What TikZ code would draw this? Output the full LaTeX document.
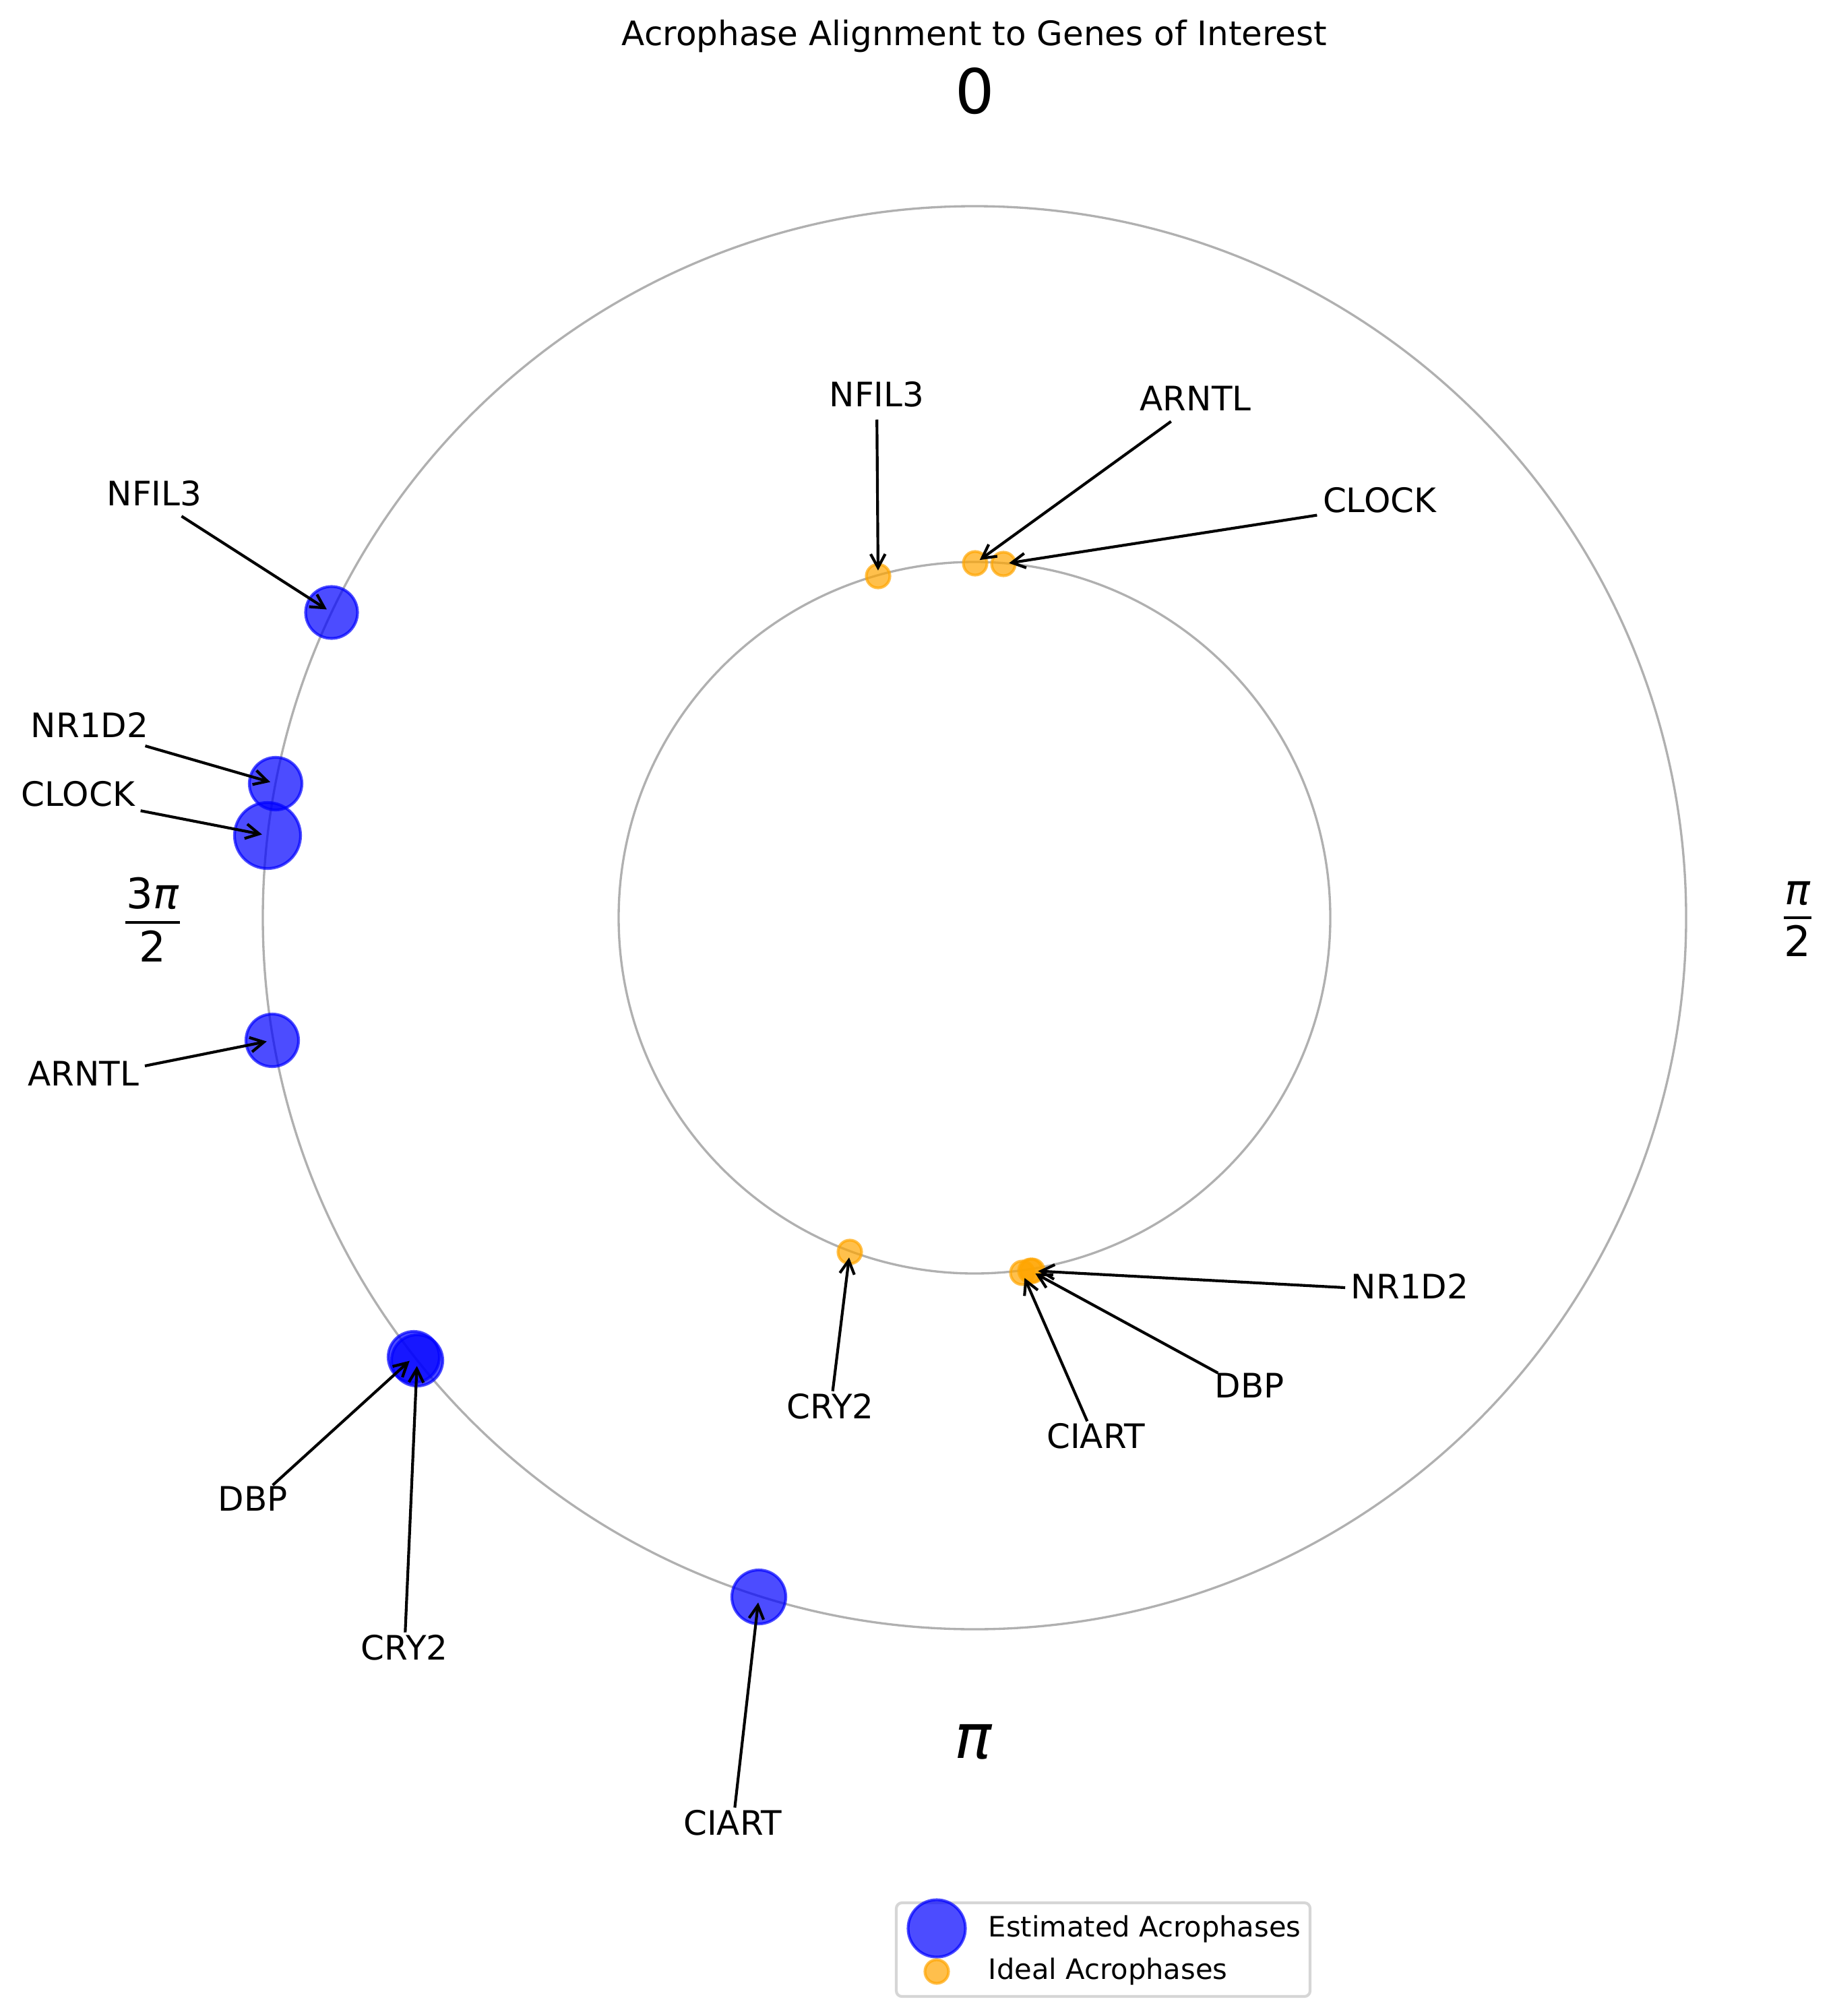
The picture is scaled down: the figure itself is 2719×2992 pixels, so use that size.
\documentclass[tikz,border=0pt]{standalone}
\usepackage{fontspec}
\setmainfont{DejaVu Sans}
\usetikzlibrary{arrows.meta}
\definecolor{gridc}{HTML}{B0B0B0}
\definecolor{est}{HTML}{0000FF}
\definecolor{ideal}{HTML}{FFA500}
\definecolor{legc}{HTML}{D6D6D6}
\begin{document}
\begin{tikzpicture}[x=0.24pt,y=-0.24pt,
  lab/.style={font=\fontsize{12}{14}\selectfont, inner sep=0pt, text height=0.76em, text depth=0.24em, anchor=base},
  arr/.style={line width=1pt, -{Straight Barb[length=4.8pt,width=5.2pt]}, shorten <=1.9pt, shorten >=2pt},
  estpt/.style={fill=est, draw=est, fill opacity=0.7, draw opacity=0.7, line width=1pt},
  idealpt/.style={fill=ideal, draw=ideal, fill opacity=0.7, draw opacity=0.7, line width=1pt},
  ticklab/.style={font=\fontsize{22}{26}\selectfont, inner sep=0pt, anchor=base},
  fraclab/.style={font=\fontsize{15}{18}\selectfont, inner sep=0pt, anchor=base},
  gridline/.style={draw=gridc, line width=0.8pt},
  legtext/.style={font=\fontsize{10}{12}\selectfont, inner sep=0pt, anchor=base west}]
\useasboundingbox (0,0) rectangle (2719,2992);
% grid circles
\coordinate (c) at (1446,1362);
\draw[gridline] (c) circle[radius=1056*0.24pt];
\draw[gridline] (c) circle[radius=528*0.24pt];
% title
\node[lab, text depth=0pt] (title) at (1446,68) {Acrophase Alignment to Genes of Interest};
% tick labels
\node[ticklab] (t0) at (1447,169) {0};
\node[ticklab] (tpi) at (1444,2609) {\itshape π};
\node[fraclab] (tq1n) at (2667,1342) {\itshape π};
\coordinate (q1a) at (2647,1362); \coordinate (q1b) at (2688,1362);
\draw[line width=1pt] (q1a) -- (q1b);
\node[fraclab] (tq1d) at (2667,1419) {2};
\node[fraclab] (tq3n) at (226,1348) {3{\itshape π}};
\coordinate (q3a) at (186,1369); \coordinate (q3b) at (267,1369);
\draw[line width=1pt] (q3a) -- (q3b);
\node[fraclab] (tq3d) at (226,1427) {2};
% estimated (blue) points
\coordinate (bNFIL3) at (492,909);
\coordinate (bNR1D2) at (409,1163);
\coordinate (bCLOCK) at (397,1240);
\coordinate (bARNTL) at (404,1544);
\coordinate (bDBP) at (614,2014);
\coordinate (bCRY2) at (619,2019);
\coordinate (bCIART) at (1126,2370);
\path[estpt] (bNFIL3) circle[radius=38.5*0.24pt];
\path[estpt] (bNR1D2) circle[radius=39*0.24pt];
\path[estpt] (bCLOCK) circle[radius=49*0.24pt];
\path[estpt] (bARNTL) circle[radius=39*0.24pt];
\path[estpt] (bDBP) circle[radius=38*0.24pt];
\path[estpt] (bCRY2) circle[radius=38*0.24pt];
\path[estpt] (bCIART) circle[radius=40*0.24pt];
% ideal (orange) points
\coordinate (iNFIL3) at (1303,855);
\coordinate (iARNTL) at (1447,836);
\coordinate (iCLOCK) at (1489,837);
\coordinate (iCRY2) at (1261,1858);
\coordinate (iCIART) at (1517,1889);
\coordinate (iDBP) at (1529,1886);
\coordinate (iNR1D2) at (1532,1886);
\path[idealpt] (iNFIL3) circle[radius=17.5*0.24pt];
\path[idealpt] (iARNTL) circle[radius=17.5*0.24pt];
\path[idealpt] (iCLOCK) circle[radius=17.5*0.24pt];
\path[idealpt] (iCRY2) circle[radius=17.5*0.24pt];
\path[idealpt] (iCIART) circle[radius=17.5*0.24pt];
\path[idealpt] (iDBP) circle[radius=17.5*0.24pt];
\path[idealpt] (iNR1D2) circle[radius=17.5*0.24pt];
% labels for estimated
\node[lab] (lbNFIL3) at (229,751) {NFIL3};
\node[lab] (lbNR1D2) at (133,1094) {NR1D2};
\node[lab] (lbCLOCK) at (116,1196) {CLOCK};
\node[lab] (lbARNTL) at (124,1611) {ARNTL};
\node[lab] (lbDBP) at (375,2242) {DBP};
\node[lab] (lbCRY2) at (600,2463) {CRY2};
\node[lab] (lbCIART) at (1087,2723) {CIART};
% labels for ideal
\node[lab] (liNFIL3) at (1301,604) {NFIL3};
\node[lab] (liARNTL) at (1774,610) {ARNTL};
\node[lab] (liCLOCK) at (2047,761) {CLOCK};
\node[lab] (liCRY2) at (1232,2105) {CRY2};
\node[lab] (liCIART) at (1626,2149) {CIART};
\node[lab] (liDBP) at (1854,2074) {DBP};
\node[lab] (liNR1D2) at (2092,1927) {NR1D2};
% arrows
\draw[arr] (lbNFIL3) -- (bNFIL3);
\draw[arr] (lbNR1D2) -- (bNR1D2);
\draw[arr] (lbCLOCK) -- (bCLOCK);
\draw[arr] (lbARNTL) -- (bARNTL);
\draw[arr] (lbDBP) -- (bDBP);
\draw[arr] (lbCRY2) -- (bCRY2);
\draw[arr] (lbCIART) -- (bCIART);
\draw[arr] (liNFIL3) -- (iNFIL3);
\draw[arr] (liARNTL) -- (iARNTL);
\draw[arr] (liCLOCK) -- (iCLOCK);
\draw[arr] (liCRY2) -- (iCRY2);
\draw[arr] (liCIART) -- (iCIART);
\draw[arr] (liDBP) -- (iDBP);
\draw[arr] (liNR1D2) -- (iNR1D2);
% legend
\coordinate (lg1) at (1330,2824); \coordinate (lg2) at (1944,2963);
\draw[draw=legc, fill=white, line width=1pt, rounded corners=2pt] (lg1) rectangle (lg2);
\coordinate (lgb) at (1390,2862);
\coordinate (lgo) at (1390,2926);
\path[estpt] (lgb) circle[radius=42.5*0.24pt];
\path[idealpt] (lgo) circle[radius=17.5*0.24pt];
\node[legtext] (lgtb) at (1466,2874) {Estimated Acrophases};
\node[legtext] (lgto) at (1466,2937) {Ideal Acrophases};
\end{tikzpicture}
\end{document}
